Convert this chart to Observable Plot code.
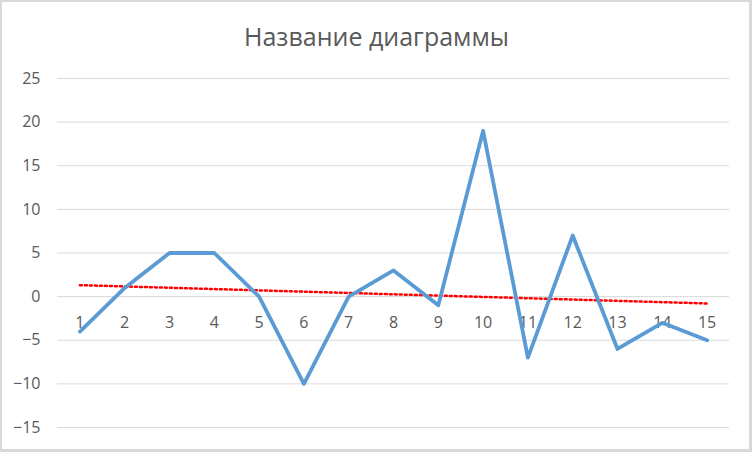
<!DOCTYPE html>
<html>
<head>
<meta charset="utf-8">
<script src="https://cdn.jsdelivr.net/npm/d3@7"></script>
<script src="https://cdn.jsdelivr.net/npm/@observablehq/plot@0.6"></script>
<style>
  html, body { margin: 0; padding: 0; background: #fff; }
  #chart { position: relative; width: 752px; height: 452px; box-sizing: border-box; border: 2px solid #d9d9d9; border-right-width: 3px; border-bottom-width: 3px; overflow: hidden; }
  #chart svg { position: absolute; left: -2px; top: -2px; max-width: none !important; }
</style>
</head>
<body>
<div id="chart"></div>
<script>
const title = "Название диаграммы";
const categories = [1, 2, 3, 4, 5, 6, 7, 8, 9, 10, 11, 12, 13, 14, 15];
const values = [-4, 1, 5, 5, 0, -10, 0, 3, -1, 19, -7, 7, -6, -3, -5];
const yTicks = [-15, -10, -5, 0, 5, 10, 15, 20, 25];

const data = categories.map((c, i) => ({x: c, y: values[i]}));

// linear trendline (least squares) from the series
const n = categories.length;
const mx = d3.mean(categories), my = d3.mean(values);
const slope = d3.sum(categories, (c, i) => (c - mx) * (values[i] - my)) / d3.sum(categories, c => (c - mx) ** 2);
const trend = [categories[0], categories[n - 1]].map(x => ({x, y: my + slope * (x - mx)}));

const font = "'Open Sans', 'Noto Sans', sans-serif";
const grey = "#595959";

const chart = Plot.plot({
  width: 752,
  height: 452,
  marginLeft: 57,
  marginRight: 23,
  marginTop: 78,
  marginBottom: 25,
  style: {fontFamily: font, fontSize: "16px", color: grey, background: "transparent", maxWidth: "none"},
  x: {domain: [0.5, 15.5], axis: null},
  y: {domain: [-15, 25], axis: null},
  marks: [
    Plot.ruleY(yTicks, {stroke: "#d9d9d9", strokeWidth: 1}),
    Plot.axisY(yTicks, {tickSize: 0, tickPadding: 17, fill: grey, fontSize: 16, label: null}),
    Plot.text(categories, {x: d => d, y: 0, dy: 26, text: d => String(d), fill: grey, fontSize: 16}),
    Plot.line(trend, {x: "x", y: "y", stroke: "#ff0000", strokeWidth: 2.5, strokeDasharray: "2,3"}),
    Plot.line(data, {x: "x", y: "y", stroke: "#5b9bd5", strokeWidth: 3.8, strokeLinejoin: "round", strokeLinecap: "round"}),
    Plot.text([title], {frameAnchor: "top", lineAnchor: "middle", dx: -17, dy: -41, text: d => d, fill: grey, fontSize: 25, fontFamily: font})
  ]
});
document.getElementById("chart").appendChild(chart);
</script>
</body>
</html>
